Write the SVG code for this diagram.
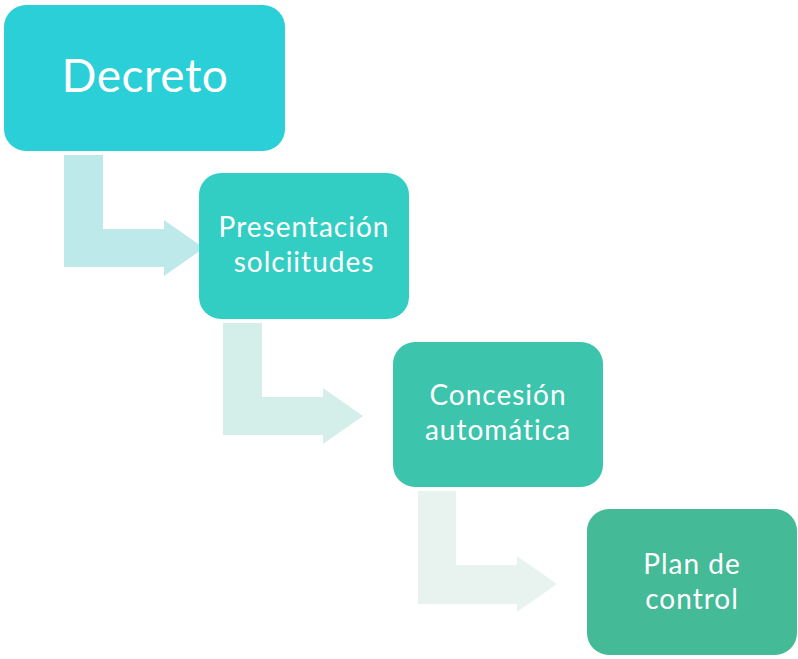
<svg xmlns="http://www.w3.org/2000/svg" width="798" height="659" viewBox="0 0 798 659">
<style>
.lbl{font-family:Lato,"Noto Sans","Liberation Sans",sans-serif;fill:#fff;text-anchor:middle}
.sm{font-size:28px;letter-spacing:1px}
</style>
<rect width="798" height="659" fill="#fff"/>
<g id="connectors">
<path d="M64,155 H103 V229 H164 V220 L204,248 L164,276 V267 H64 Z" fill="#BEE9EB"/>
<path d="M223,323 H262 V397 H323 V388 L363,416 L323,444 V435 H223 Z" fill="#D4EEEA"/>
<path d="M418,491 H456 V565 H517 V556 L557,584 L517,612 V604 H418 Z" fill="#E8F3EF"/>
</g>
<g id="n1">
<rect x="4" y="5" width="281" height="146" rx="22" fill="#2ACFD8"/>
<text class="lbl" x="145" y="92" font-size="46" letter-spacing="0.5">Decreto</text>
</g>
<g id="n2">
<rect x="199" y="173" width="210" height="146" rx="22" fill="#33CEC3"/>
<text class="lbl sm" x="304" y="237">Presentación</text>
<text class="lbl sm" x="304" y="272">solciitudes</text>
</g>
<g id="n3">
<rect x="393" y="342" width="210" height="145" rx="22" fill="#3CC4AC"/>
<text class="lbl sm" x="498" y="405">Concesión</text>
<text class="lbl sm" x="498" y="440">automática</text>
</g>
<g id="n4">
<rect x="587" y="509" width="210" height="146" rx="22" fill="#44BA97"/>
<text class="lbl sm" x="692" y="574">Plan de</text>
<text class="lbl sm" x="692" y="609">control</text>
</g>
</svg>
